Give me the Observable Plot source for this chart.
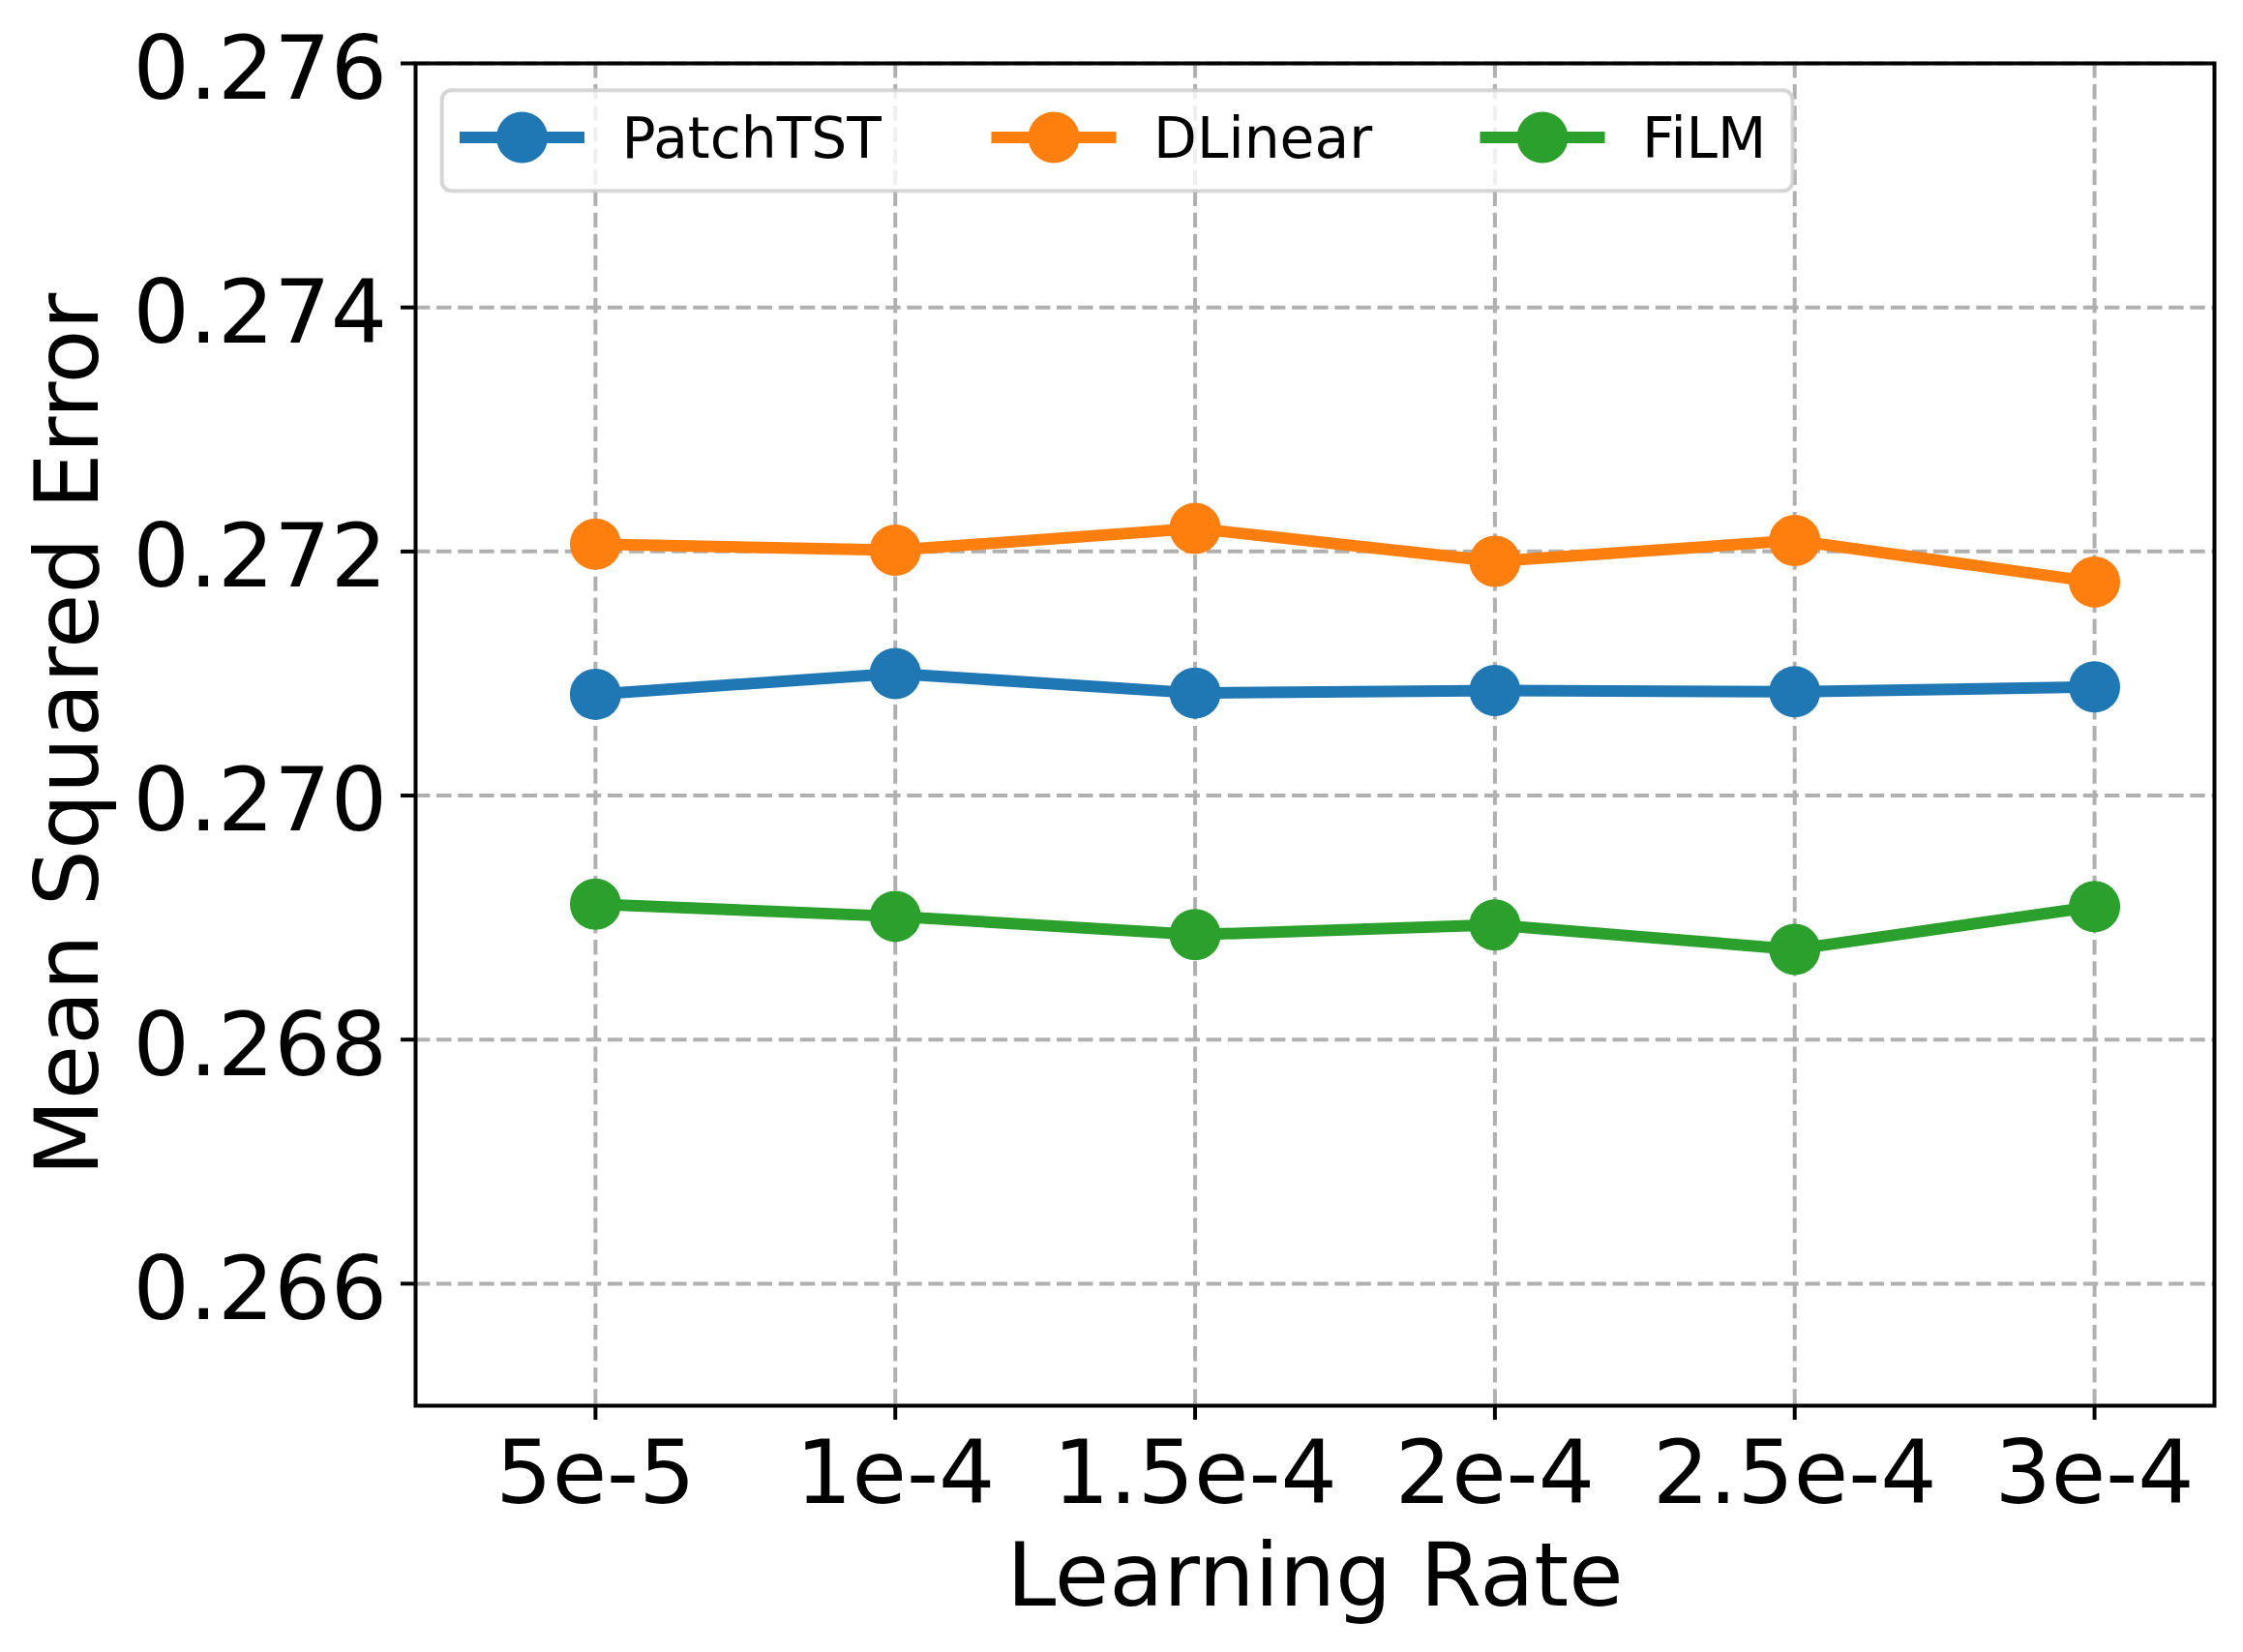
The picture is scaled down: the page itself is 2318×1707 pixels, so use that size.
<!DOCTYPE html>
<html>
<head>
<meta charset="utf-8">
<script src="https://cdn.jsdelivr.net/npm/d3@7"></script>
<script src="https://cdn.jsdelivr.net/npm/@observablehq/plot@0.6"></script>
<style>
  html, body { margin: 0; padding: 0; background: #ffffff; }
  #wrap { position: relative; width: 2318px; height: 1707px; font-family: "DejaVu Sans", sans-serif; }
  #legend { position: absolute; left: 0; top: 0; pointer-events: none; }
</style>
</head>
<body>
<div id="wrap"></div>
<script>
// ---- data ----
const learningRates = [5e-5, 1e-4, 1.5e-4, 2e-4, 2.5e-4, 3e-4];
const xTickLabels = ["5e-5", "1e-4", "1.5e-4", "2e-4", "2.5e-4", "3e-4"];
const yTicks = [0.266, 0.268, 0.270, 0.272, 0.274, 0.276];
const seriesNames = ["PatchTST", "DLinear", "FiLM"];
const seriesColors = ["#1f77b4", "#ff7f0e", "#2ca02c"];
const patchTST = [0.27083, 0.27100, 0.27084, 0.27086, 0.27085, 0.27089];
const dLinear  = [0.27206, 0.27201, 0.27219, 0.27192, 0.27209, 0.27175];
const fiLM     = [0.26911, 0.26901, 0.26886, 0.26894, 0.26874, 0.26909];
const xLabel = "Learning Rate";
const yLabel = "Mean Squared Error";

// ---- build table ----
const seriesValues = [patchTST, dLinear, fiLM];
const rows = [];
seriesValues.forEach((vals, si) => vals.forEach((v, i) => rows.push({series: seriesNames[si], lr: learningRates[i], mse: v})));

const W = 2318, H = 1707;
const FONT = "DejaVu Sans";
const gridStyle = {stroke: "#b0b0b0", strokeOpacity: 1, strokeWidth: 4, strokeDasharray: "15.4,6.7"};

const marks = [
  Plot.gridX(learningRates, gridStyle),
  Plot.gridY(yTicks, gridStyle)
];
seriesNames.forEach(name => {
  const d = rows.filter(r => r.series === name);
  marks.push(Plot.line(d, {x: "lr", y: "mse", stroke: "series", strokeWidth: 12, strokeLinejoin: "round", strokeLinecap: "butt"}));
  marks.push(Plot.dot(d, {x: "lr", y: "mse", fill: "series", r: 26.5, stroke: null}));
});
marks.push(
  Plot.frame({stroke: "#000000", strokeWidth: 4}),
  Plot.axisX(learningRates, {
    tickSize: 15, tickPadding: 20, strokeWidth: 4, fontSize: 91.7, label: null,
    tickFormat: d => xTickLabels[learningRates.indexOf(d)]
  }),
  Plot.axisY(yTicks, {tickSize: 15, strokeWidth: 4, label: null, tickFormat: () => ""}),
  Plot.axisY(yTicks, {tickSize: 0, tickPadding: 29.5, dy: 7, fontSize: 91.7, label: null, tickFormat: d3.format(".3f")}),
  Plot.text([xLabel], {text: d => d, frameAnchor: "bottom", dy: 177, fontSize: 91.7, lineAnchor: "middle", fill: "#000"}),
  Plot.text([yLabel], {text: d => d, frameAnchor: "left", dx: -358, rotate: -90, fontSize: 91.7, lineAnchor: "middle", textAnchor: "middle", fill: "#000"})
);

const chart = Plot.plot({
  width: W,
  height: H,
  marginLeft: 429,
  marginRight: 30,
  marginTop: 65,
  marginBottom: 255,
  x: {type: "linear", domain: [2e-5, 3.2e-4]},
  y: {type: "linear", domain: [0.265, 0.276]},
  color: {domain: seriesNames, range: seriesColors},
  style: {fontFamily: FONT, color: "#000", background: "#fff", overflow: "visible"},
  marks
});
const wrap = document.getElementById("wrap");
wrap.appendChild(chart);

// ---- legend overlay (matplotlib-style, upper left, 3 columns) ----
const legendBox = {x: 456.7, y: 93.3, w: 1395.8, h: 104, r: 10};
const legendItemX = [475, 1024.5, 1529.5];
const handleLen = 129, handleY = 142, textGap = 167.6, textBaseline = 163.3;
const svg = d3.select(wrap).append("svg")
  .attr("id", "legend")
  .attr("width", W).attr("height", 260)
  .attr("font-family", FONT);
svg.append("rect")
  .attr("x", legendBox.x).attr("y", legendBox.y)
  .attr("width", legendBox.w).attr("height", legendBox.h)
  .attr("rx", legendBox.r).attr("ry", legendBox.r)
  .attr("fill", "#ffffff").attr("fill-opacity", 0.8)
  .attr("stroke", "#cccccc").attr("stroke-opacity", 0.8).attr("stroke-width", 4);
seriesNames.forEach((name, i) => {
  const x0 = legendItemX[i];
  const g = svg.append("g");
  g.append("line")
    .attr("x1", x0).attr("x2", x0 + handleLen)
    .attr("y1", handleY).attr("y2", handleY)
    .attr("stroke", seriesColors[i]).attr("stroke-width", 12);
  g.append("circle")
    .attr("cx", x0 + handleLen / 2).attr("cy", handleY).attr("r", 26.5)
    .attr("fill", seriesColors[i]);
  g.append("text")
    .attr("x", x0 + textGap).attr("y", textBaseline)
    .attr("font-size", 58.3).attr("fill", "#000")
    .text(name);
});
</script>
</body>
</html>
